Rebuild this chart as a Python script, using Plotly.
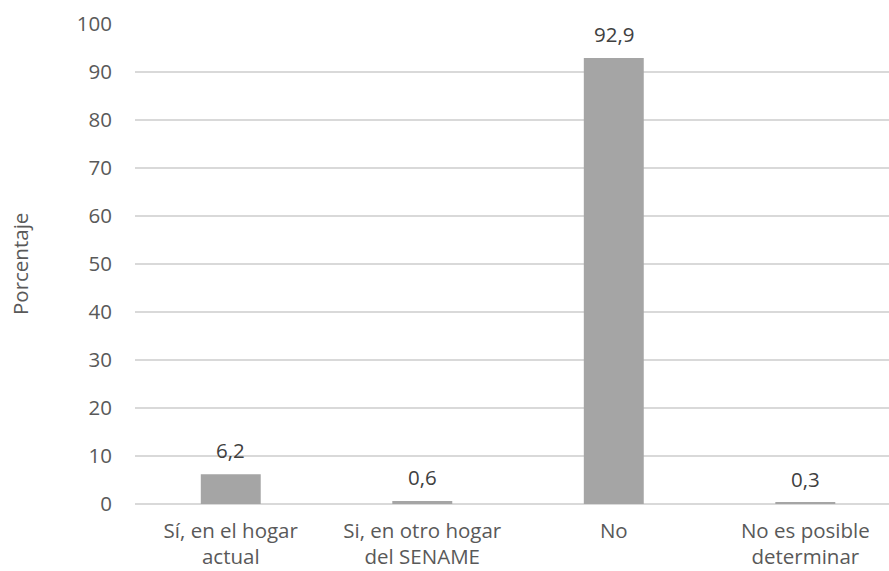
import plotly.graph_objects as go

categories = ["Sí, en el hogar<br>actual", "Si, en otro hogar<br>del SENAME", "No", "No es posible<br>determinar"]
values = [6.2, 0.6, 92.9, 0.3]
value_labels = ["6,2", "0,6", "92,9", "0,3"]
y_ticks = [0, 10, 20, 30, 40, 50, 60, 70, 80, 90, 100]

FONT = "Open Sans"
FS = 20.5
W, H = 889, 571
L, R, T, B = 135, 0, 24, 67

fig = go.Figure(
    go.Bar(
        x=list(range(len(categories))),
        y=values,
        marker=dict(color="#A5A5A5", line=dict(width=0)),
        width=0.313,
        hoverinfo="skip",
    )
)

# value labels above each bar
for i, (v, t) in enumerate(zip(values, value_labels)):
    fig.add_annotation(
        x=i, y=v, text=t, showarrow=False, yanchor="middle", yshift=24,
        font=dict(family=FONT, size=FS, color="#404040"),
    )

# axis title
fig.add_annotation(
    xref="paper", yref="paper", x=(20 - L) / (W - L - R), y=0.5,
    text="Porcentaje", textangle=-90, showarrow=False,
    xanchor="center", yanchor="middle",
    font=dict(family=FONT, size=FS, color="#595959"),
)

fig.update_layout(
    width=W, height=H,
    margin=dict(l=L, r=R, t=T, b=B, pad=0, autoexpand=False),
    plot_bgcolor="white", paper_bgcolor="white",
    showlegend=False,
    font=dict(family=FONT, size=FS, color="#595959"),
    xaxis=dict(
        tickmode="array",
        tickvals=list(range(len(categories))),
        ticktext=categories,
        range=[-0.5, 3.437],
        showgrid=False, zeroline=False, showline=False,
        ticks="", ticklabelstandoff=12, automargin=False,
        tickfont=dict(family=FONT, size=FS, color="#595959"),
        fixedrange=True,
    ),
    yaxis=dict(
        range=[0, 100],
        tickmode="array", tickvals=y_ticks,
        showgrid=True, gridcolor="#D9D9D9", gridwidth=1.5,
        zeroline=True, zerolinecolor="#D9D9D9", zerolinewidth=1.5,
        showline=False, ticks="", ticklabelstandoff=22, automargin=False,
        tickfont=dict(family=FONT, size=FS, color="#595959"),
        fixedrange=True,
    ),
)

fig.write_html("out.html", config={"displayModeBar": False})
